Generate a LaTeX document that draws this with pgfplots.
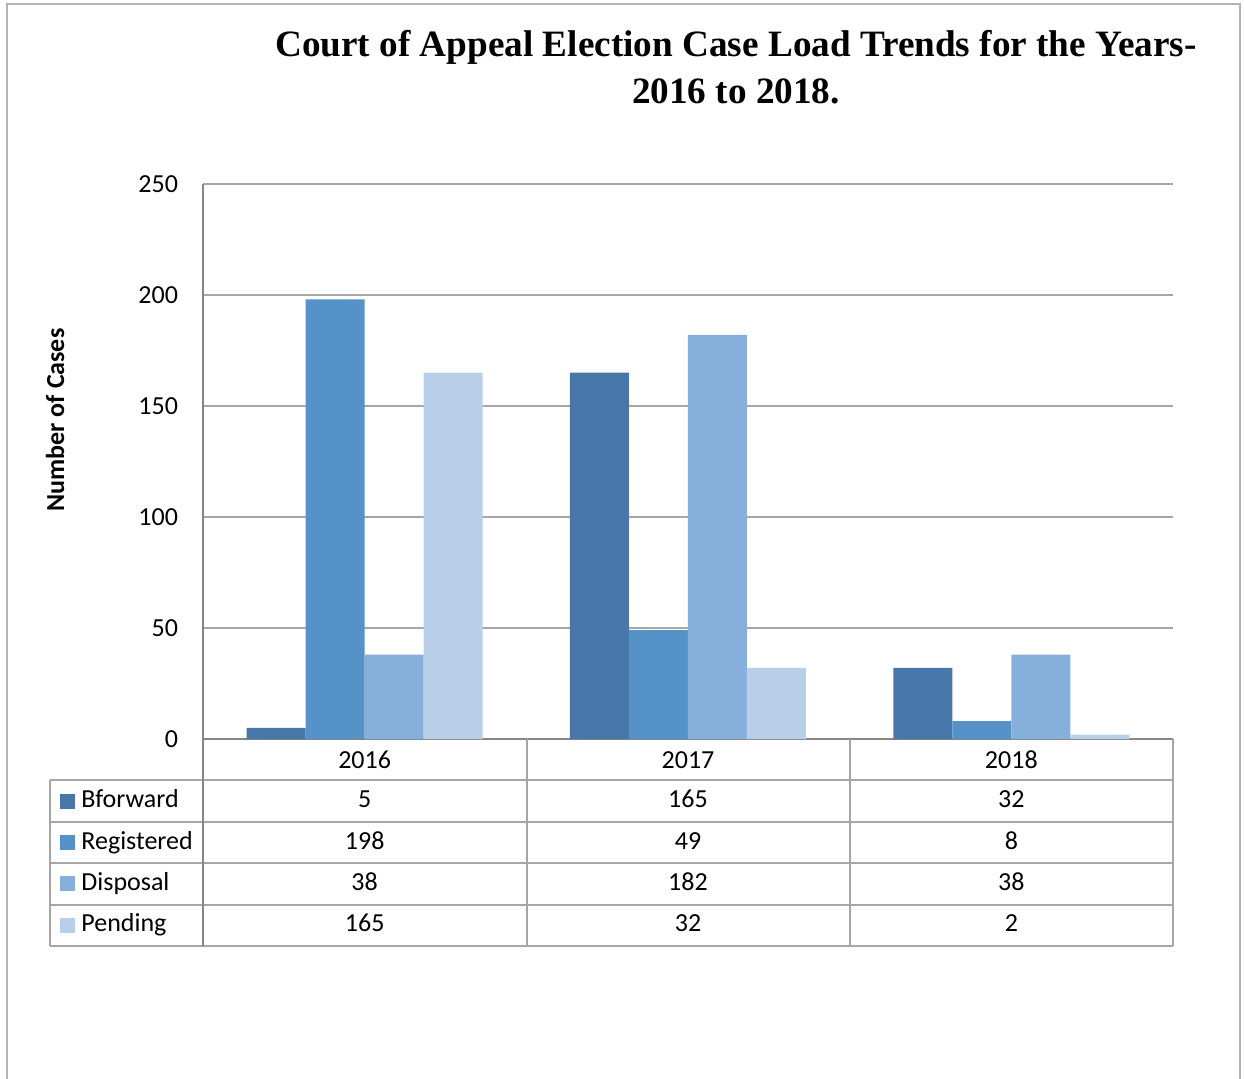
\documentclass[border=0pt]{standalone}
\usepackage{pgfplots}
\usepackage{pgfplotstable}
\pgfplotsset{compat=1.18}
\usepackage{fontspec}
\setmainfont{Carlito}
\newfontfamily\titlefont{Liberation Serif}

\definecolor{cBfw}{HTML}{4677A8}
\definecolor{cReg}{HTML}{5592C8}
\definecolor{cDis}{HTML}{86AFDC}
\definecolor{cPen}{HTML}{B9CEE8}
\definecolor{axisgray}{HTML}{868686}
\definecolor{gridgray}{HTML}{A6A6A6}
\definecolor{framegray}{HTML}{B3B3B3}

\pgfplotstableread{
x year Bforward Registered Disposal Pending
0 2016 5   198 38  165
1 2017 165 49  182 32
2 2018 32  8   38  2
}\caseload

\begin{document}
\fontsize{13pt}{15pt}\selectfont
\begin{tikzpicture}
\useasboundingbox (-101.5pt,-169.5pt) rectangle (520.5pt,369.5pt);
\draw[framegray, line width=1pt] (-98pt,-190pt) rectangle (518.5pt,367.5pt);

\begin{axis}[
  at={(0,0)}, anchor=south west,
  scale only axis,
  width=485pt, height=277.5pt,
  ybar=0pt, bar width=29.5pt,
  xmin=-0.5, xmax=2.5,
  ymin=0, ymax=250,
  ytick={0,50,...,250},
  xtick={0,1,2},
  xticklabels={2016,2017,2018},
  axis x line*=bottom, axis y line*=left,
  axis line style={axisgray, line width=1pt, -},
  major tick length=0pt,
  ymajorgrids,
  major grid style={gridgray, line width=1pt},
  yticklabel style={xshift=-8pt},
  xticklabel style={anchor=center, yshift=-10.6pt},
  tick label style={font=\fontsize{13pt}{15pt}\selectfont},
  /pgf/number format/assume math mode=true,
  clip=false,
]
\addplot[fill=cBfw, draw=none] table[x=x, y=Bforward] {\caseload};
\addplot[fill=cReg, draw=none] table[x=x, y=Registered] {\caseload};
\addplot[fill=cDis, draw=none] table[x=x, y=Disposal] {\caseload};
\addplot[fill=cPen, draw=none] table[x=x, y=Pending] {\caseload};
\end{axis}

% data table below the axis
\foreach \yy in {-20.7,-41.4,-62.1,-82.8,-103.5}
  \draw[gridgray, line width=1pt] (-76.5pt,\yy pt) -- (485pt,\yy pt);
\draw[gridgray, line width=1pt] (-76.5pt,-20.7pt) -- (-76.5pt,-103.5pt);
\foreach \xx in {162,323.5,485}
  \draw[gridgray, line width=1pt] (\xx pt,0pt) -- (\xx pt,-103.5pt);
\draw[axisgray, line width=1pt] (0pt,0pt) -- (0pt,-103.5pt);

\foreach \c/\k/\col in {Bforward/1/cBfw, Registered/2/cReg, Disposal/3/cDis, Pending/4/cPen}{
  \fill[\col] (-71.5pt,{-20.7pt*\k-10.35pt-3.75pt}) rectangle ++(7.5pt,7.5pt);
  \node[anchor=west, inner sep=0pt] at (-61pt,{-20.7pt*\k-10.6pt}) {\strut\c};
  \foreach \r in {0,1,2}{
    \pgfplotstablegetelem{\r}{\c}\of\caseload
    \node[inner sep=0pt] at ({80.83pt+161.67pt*\r},{-20.7pt*\k-10.6pt}) {\strut\pgfplotsretval};
  }
}

\node[rotate=90, font=\bfseries] at (-74pt,159.5pt) {Number of Cases};
\node[align=center, font=\titlefont\bfseries\fontsize{18.6pt}{23.5pt}\selectfont] at (266.5pt,336pt)
  {Court of Appeal Election Case Load Trends for the Years-\\2016 to 2018.};
\end{tikzpicture}
\end{document}
